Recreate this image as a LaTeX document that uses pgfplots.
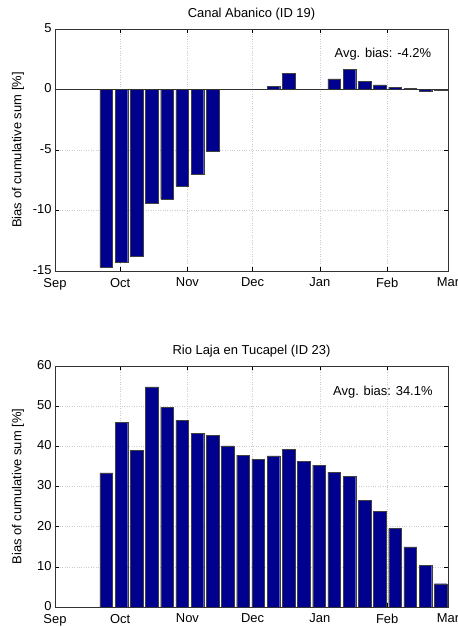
\documentclass[border=0pt]{standalone}
\usepackage{fontspec}
\setmainfont{Liberation Sans}
\usepackage{pgfplots}
\pgfplotsset{compat=1.18}
\definecolor{barblue}{RGB}{0,0,143}
\pgfplotsset{
  biasaxis/.style={
    scale only axis, width=393bp,
    xmin=0, xmax=181,
    xtick={0,30,61,91,122,153,181},
    xticklabels={Sep,Oct,Nov,Dec,Jan,Feb,Mar},
    grid=major, major grid style={dotted, gray!40},
    tick style={black, thin}, axis line style={black!80, thin},
    tick align=inside, major tick length=4bp,
    font=\fontsize{13}{15}\selectfont,
    /pgf/number format/assume math mode=true,
    xticklabel style={yshift=-3.5bp},
    yticklabel style={yshift=1bp},
    ylabel={Bias of cumulative sum [\%]},
    ylabel style={at={(axis description cs:-0.094,0.5)}, anchor=center},
    title style={yshift=-1pt},
  },
  biasbar/.style={ybar, bar width=5.8, fill=barblue, draw=black!75, line width=0.4pt},
}
\begin{document}
\begin{tikzpicture}
\useasboundingbox (0,0) rectangle (458bp,627bp);

% Canal Abanico
\begin{axis}[biasaxis, at={(55bp,356bp)}, anchor=south west, height=242bp,
    ymin=-15, ymax=5, ytick={-15,-10,-5,0,5},
    title={Canal Abanico (ID 19)}]
  \addplot[biasbar] coordinates {
    (23.6,-14.7) (30.6,-14.26) (37.6,-13.8) (44.6,-9.4) (51.6,-9.07)
    (58.6,-8.0) (65.6,-6.98) (72.6,-5.11) (79.6,0) (86.6,0) (93.6,0)
    (100.6,0.25) (107.6,1.32) (114.6,0) (121.6,0) (128.6,0.88)
    (135.6,1.65) (142.6,0.66) (149.6,0.38) (156.6,0.19) (163.6,0.1)
    (170.6,-0.14) (177.6,-0.03)};
  \addplot[black!80, thin] coordinates {(0,0) (181,0)};
  \node at (axis cs:151,2.9) {Avg. bias: -4.2\%};
\end{axis}

% Rio Laja en Tucapel
\begin{axis}[biasaxis, at={(55bp,20bp)}, anchor=south west, height=241bp,
    ymin=0, ymax=60, ytick={0,10,...,60},
    title={Rio Laja en Tucapel (ID 23)}]
  \addplot[biasbar] coordinates {
    (23.6,33.4) (30.6,46.0) (37.6,39.0) (44.6,54.8) (51.6,49.7)
    (58.6,46.5) (65.6,43.2) (72.6,42.7) (79.6,40.1) (86.6,37.8)
    (93.6,36.8) (100.6,37.6) (107.6,39.2) (114.6,36.2) (121.6,35.3)
    (128.6,33.6) (135.6,32.5) (142.6,26.6) (149.6,23.8) (156.6,19.5)
    (163.6,15.0) (170.6,10.3) (177.6,5.8)};
  \node at (axis cs:151,53.6) {Avg. bias: 34.1\%};
\end{axis}
\end{tikzpicture}
\end{document}
